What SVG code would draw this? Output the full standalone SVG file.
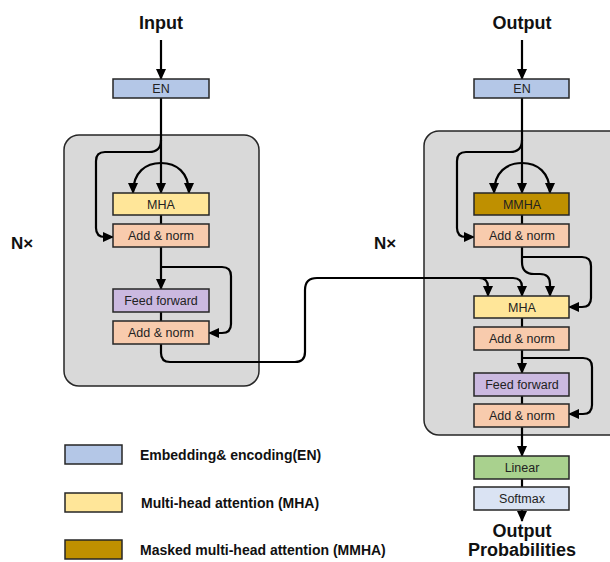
<svg xmlns="http://www.w3.org/2000/svg" width="610" height="562" viewBox="0 0 610 562">
<defs>
<marker id="ah" viewBox="0 0 11 10" refX="10" refY="5" markerWidth="11" markerHeight="10" markerUnits="userSpaceOnUse" orient="auto">
<path d="M0,0 L11,5 L0,10 z" fill="#000"/>
</marker>
<style>
.cont{fill:#D9D9D9;stroke:#262626;stroke-width:1.5}
.box{stroke:#262626;stroke-width:1.5}
.lbl{font-family:"Liberation Sans",Arial,sans-serif;font-size:12.5px;fill:#222;text-anchor:middle}
.big{font-family:"Liberation Sans",Arial,sans-serif;font-size:18px;font-weight:bold;fill:#111;text-anchor:middle}
.leg{font-family:"Liberation Sans",Arial,sans-serif;font-size:14px;font-weight:bold;fill:#111}
.nx{font-family:"Liberation Sans",Arial,sans-serif;font-size:17px;font-weight:bold;fill:#111}
.c{fill:none;stroke:#000;stroke-width:2.2}
.a{marker-end:url(#ah)}
.en{fill:#B4C7E7}.mha{fill:#FFE699}.mmha{fill:#BF9000}.an{fill:#F8CBAD}.ff{fill:#CBB9E0}.lin{fill:#A9D18E}.sm{fill:#DAE3F3}
</style>
</defs>
<rect width="610" height="562" fill="#fff"/>

<g id="encoder-block"><rect class="cont" x="64" y="135" width="195" height="251" rx="15"/></g>
<g id="decoder-block"><rect class="cont" x="424" y="131" width="200" height="304" rx="15"/></g>

<g id="labels">
<text class="big" x="161" y="29">Input</text>
<text class="big" x="522" y="29">Output</text>
<text class="nx" x="11" y="249">N×</text>
<text class="nx" x="374" y="249">N×</text>
<text class="big" x="522" y="537">Output</text>
<text class="big" x="522" y="556">Probabilities</text>
</g>

<g id="connectors">
<path class="c a" d="M161,40 L161,79"/>
<path class="c a" d="M161,98 L161,193"/>
<path class="c a" d="M161,140 Q161,152 149,152 L105,152 Q96,152 96,161 L96,228 Q96,237 105,237 L113,237"/>
<path class="c a" d="M161,163 C146,163 133,172 133,193"/>
<path class="c a" d="M161,163 C176,163 189,172 189,193"/>
<path class="c" d="M161,215 L161,224"/>
<path class="c a" d="M161,247 L161,289"/>
<path class="c a" d="M161,267 L222,267 Q231,267 231,276 L231,324 Q231,333 222,333 L209,333"/>
<path class="c" d="M161,312 L161,321"/>
<path class="c a" d="M161,344 L161,353 Q161,362 170,362 L295,362 Q305,362 305,352 L305,290 Q305,278 317,278 L479,278 Q488,278 488,287 L488,296"/>
<path class="c a" d="M470,278 L513,278 Q522,278 522,287 L522,296"/>

<path class="c a" d="M522,40 L522,79"/>
<path class="c a" d="M522,98 L522,193"/>
<path class="c a" d="M522,140 Q522,152 510,152 L466,152 Q457,152 457,161 L457,228 Q457,237 466,237 L474,237"/>
<path class="c a" d="M522,163 C507,163 494,172 494,193"/>
<path class="c a" d="M522,163 C537,163 550,172 550,193"/>
<path class="c" d="M522,215 L522,224"/>
<path class="c a" d="M522,247 L522,262 Q522,274 534,274 L540,274 Q550,274 550,284 L550,296"/>
<path class="c a" d="M522,257 L582,257 Q591,257 591,266 L591,298 Q591,307 582,307 L569,307"/>
<path class="c" d="M522,318 L522,327"/>
<path class="c a" d="M522,350 L522,373"/>
<path class="c a" d="M522,358 L583,358 Q592,358 592,367 L592,405 Q592,414 583,414 L569,414"/>
<path class="c" d="M522,396 L522,404"/>
<path class="c a" d="M522,427 L522,456"/>
<path class="c" d="M522,479 L522,487"/>
<path class="c a" d="M522,510 L522,521"/>
</g>

<g id="enc-en"><rect class="box en" x="113" y="79" width="96" height="19"/><text class="lbl" x="161" y="93">EN</text></g>
<g id="enc-mha"><rect class="box mha" x="113" y="193" width="96" height="22"/><text class="lbl" x="161" y="208.5">MHA</text></g>
<g id="enc-addnorm1"><rect class="box an" x="113" y="224" width="96" height="23"/><text class="lbl" x="161" y="240">Add &amp; norm</text></g>
<g id="enc-ff"><rect class="box ff" x="113" y="289" width="96" height="23"/><text class="lbl" x="161" y="305">Feed forward</text></g>
<g id="enc-addnorm2"><rect class="box an" x="113" y="321" width="96" height="23"/><text class="lbl" x="161" y="337">Add &amp; norm</text></g>

<g id="dec-en"><rect class="box en" x="474" y="79" width="95" height="19"/><text class="lbl" x="522" y="93">EN</text></g>
<g id="dec-mmha"><rect class="box mmha" x="474" y="193" width="95" height="22"/><text class="lbl" x="522" y="208.5">MMHA</text></g>
<g id="dec-addnorm1"><rect class="box an" x="474" y="224" width="95" height="23"/><text class="lbl" x="522" y="240">Add &amp; norm</text></g>
<g id="dec-mha"><rect class="box mha" x="474" y="296" width="95" height="22"/><text class="lbl" x="522" y="311.5">MHA</text></g>
<g id="dec-addnorm2"><rect class="box an" x="474" y="327" width="95" height="23"/><text class="lbl" x="522" y="343">Add &amp; norm</text></g>
<g id="dec-ff"><rect class="box ff" x="474" y="373" width="95" height="23"/><text class="lbl" x="522" y="389">Feed forward</text></g>
<g id="dec-addnorm3"><rect class="box an" x="474" y="404" width="95" height="23"/><text class="lbl" x="522" y="420">Add &amp; norm</text></g>
<g id="linear"><rect class="box lin" x="474" y="456" width="95" height="23"/><text class="lbl" x="522" y="472">Linear</text></g>
<g id="softmax"><rect class="box sm" x="474" y="487" width="95" height="23"/><text class="lbl" x="522" y="503">Softmax</text></g>

<g id="legend">
<rect class="box en" x="65" y="445" width="57" height="19"/>
<text class="leg" x="140" y="460">Embedding&amp; encoding(EN)</text>
<rect class="box mha" x="65" y="493" width="57" height="19"/>
<text class="leg" x="141" y="508">Multi-head attention (MHA)</text>
<rect class="box mmha" x="65" y="540" width="57" height="19"/>
<text class="leg" x="140" y="555">Masked multi-head attention (MMHA)</text>
</g>
</svg>
